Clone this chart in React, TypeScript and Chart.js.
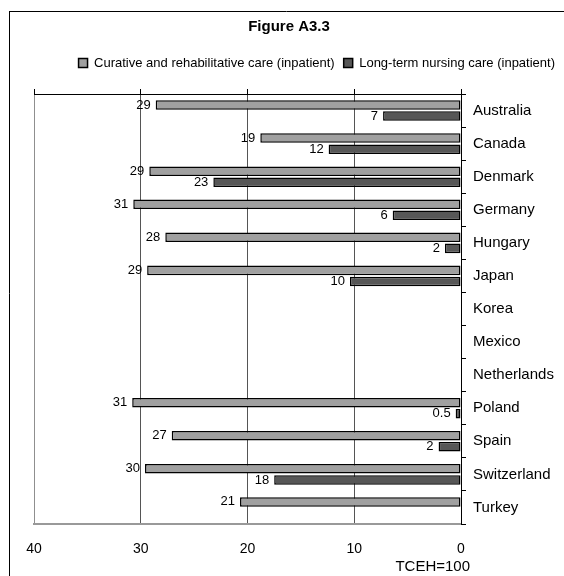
import React, { useEffect, useRef } from "react";
import { Chart, registerables } from "chart.js";

Chart.register(...registerables);

const categories = [
  "Australia",
  "Canada",
  "Denmark",
  "Germany",
  "Hungary",
  "Japan",
  "Korea",
  "Mexico",
  "Netherlands",
  "Poland",
  "Spain",
  "Switzerland",
  "Turkey",
];
const curative: (number | null)[] = [28.6, 18.8, 29.2, 30.7, 27.7, 29.4, null, null, null, 30.8, 27.1, 29.6, 20.7];
const longTerm: (number | null)[] = [7.3, 12.4, 23.2, 6.4, 1.5, 10.4, null, null, null, 0.5, 2.1, 17.5, null];
const curativeLabels = ["29", "19", "29", "31", "28", "29", "", "", "", "31", "27", "30", "21"];
const longTermLabels = ["7", "12", "23", "6", "2", "10", "", "", "", "0.5", "2", "18", ""];
const xTicks = [0, 10, 20, 30, 40];
const seriesNames = [
  "Curative and rehabilitative care (inpatient)",
  "Long-term nursing care (inpatient)",
];
const chartTitle = "Figure A3.3";
const xTitle = "TCEH=100";

const FONT = 'Arial, "Liberation Sans", sans-serif';

const framePlugin = {
  id: "frame",
  beforeDraw(chart: any) {
    const ctx = chart.ctx;
    ctx.save();
    ctx.fillStyle = "#ffffff";
    ctx.fillRect(0, 0, chart.width, chart.height);
    ctx.strokeStyle = "#000000";
    ctx.lineWidth = 1;
    ctx.beginPath();
    ctx.moveTo(9, 11.5);
    ctx.lineTo(chart.width, 11.5);
    ctx.moveTo(9.5, 11);
    ctx.lineTo(9.5, chart.height);
    ctx.stroke();
    ctx.restore();
  },
};

const labelPlugin = {
  id: "valueLabels",
  afterDatasetsDraw(chart: any) {
    const ctx = chart.ctx;
    const allLabels = [curativeLabels, longTermLabels];
    ctx.save();
    ctx.font = `13px ${FONT}`;
    ctx.fillStyle = "#000000";
    ctx.textAlign = "right";
    ctx.textBaseline = "middle";
    chart.data.datasets.forEach((ds: any, di: number) => {
      const meta = chart.getDatasetMeta(di);
      meta.data.forEach((el: any, i: number) => {
        const v = ds.data[i];
        if (v === null || v === undefined) return;
        ctx.fillText(allLabels[di][i], el.x - 5, el.y);
      });
    });
    const xs = chart.scales.x;
    ctx.font = `15px ${FONT}`;
    ctx.textAlign = "right";
    ctx.fillText(xTitle, xs.getPixelForValue(0) + 9, 567);
    ctx.restore();
  },
};

export default function App() {
  const ref = useRef<HTMLCanvasElement | null>(null);

  useEffect(() => {
    if (!ref.current) return;
    Chart.defaults.font.family = FONT;
    const chart = new Chart(ref.current, {
      type: "bar",
      data: {
        labels: categories,
        datasets: [
          {
            label: seriesNames[0],
            data: curative,
            backgroundColor: "#a0a0a0",
            borderColor: "#000000",
            borderWidth: 1.5,
            borderSkipped: false,
            categoryPercentage: 0.67,
            barPercentage: 0.86,
          },
          {
            label: seriesNames[1],
            data: longTerm,
            backgroundColor: "#575757",
            borderColor: "#000000",
            borderWidth: 1.5,
            borderSkipped: false,
            categoryPercentage: 0.67,
            barPercentage: 0.86,
          },
        ],
      },
      options: {
        indexAxis: "y",
        responsive: false,
        animation: false,
        layout: { padding: { left: 14, right: 0, top: 0, bottom: 0 } },
        plugins: {
          title: {
            display: true,
            text: chartTitle,
            color: "#000000",
            font: { size: 15, weight: "bold", family: FONT },
            padding: { top: 18, bottom: 11.5 },
          },
          legend: {
            display: true,
            position: "top",
            align: "end",
            labels: {
              boxWidth: 9,
              boxHeight: 9,
              padding: 9,
              color: "#000000",
              font: { size: 13, family: FONT },
            },
          },
          tooltip: { enabled: false },
        },
        scales: {
          x: {
            type: "linear",
            position: "bottom",
            reverse: true,
            min: 0,
            max: 40,
            afterBuildTicks: (s: any) => {
              s.ticks = xTicks.map((v) => ({ value: v }));
            },
            ticks: { color: "#000000", font: { size: 14, family: FONT }, padding: 17 },
            grid: {
              drawTicks: false,
              lineWidth: 1,
              color: (c: any) => {
                const v = c.tick ? c.tick.value : null;
                if (v === 0) return "rgba(0,0,0,0)";
                if (v === 40) return "#8f8f8f";
                return "#555555";
              },
            },
            border: { display: true, color: "#999999", width: 2 },
            afterFit: (s: any) => {
              s.height = 52;
            },
          },
          x2: {
            type: "linear",
            position: "top",
            reverse: true,
            min: 0,
            max: 40,
            afterBuildTicks: (s: any) => {
              s.ticks = xTicks.map((v) => ({ value: v }));
            },
            ticks: { display: false },
            grid: { drawOnChartArea: false, drawTicks: true, tickLength: 5, color: "#000000" },
            border: { display: true, color: "#000000", width: 1 },
            afterFit: (s: any) => {
              s.height = 14.5;
            },
          },
          y: {
            type: "category",
            position: "right",
            grid: { drawOnChartArea: false, drawTicks: true, tickLength: 5, offset: true, color: "#000000" },
            border: { display: true, color: "#000000", width: 1 },
            ticks: { color: "#000000", font: { size: 15, family: FONT }, padding: 7 },
            afterFit: (s: any) => {
              s.width = 103;
            },
          },
          yl: {
            type: "category",
            position: "left",
            grid: { display: false },
            ticks: { display: false },
            border: { display: false },
            afterFit: (s: any) => {
              s.width = 20;
            },
          },
        },
      },
      plugins: [framePlugin, labelPlugin],
    } as any);
    return () => chart.destroy();
  }, []);

  return (
    <div style={{ position: "fixed", left: 0, top: 0, width: 564, height: 576, background: "#fff" }}>
      <canvas ref={ref} width={564} height={576} style={{ display: "block" }} />
    </div>
  );
}
